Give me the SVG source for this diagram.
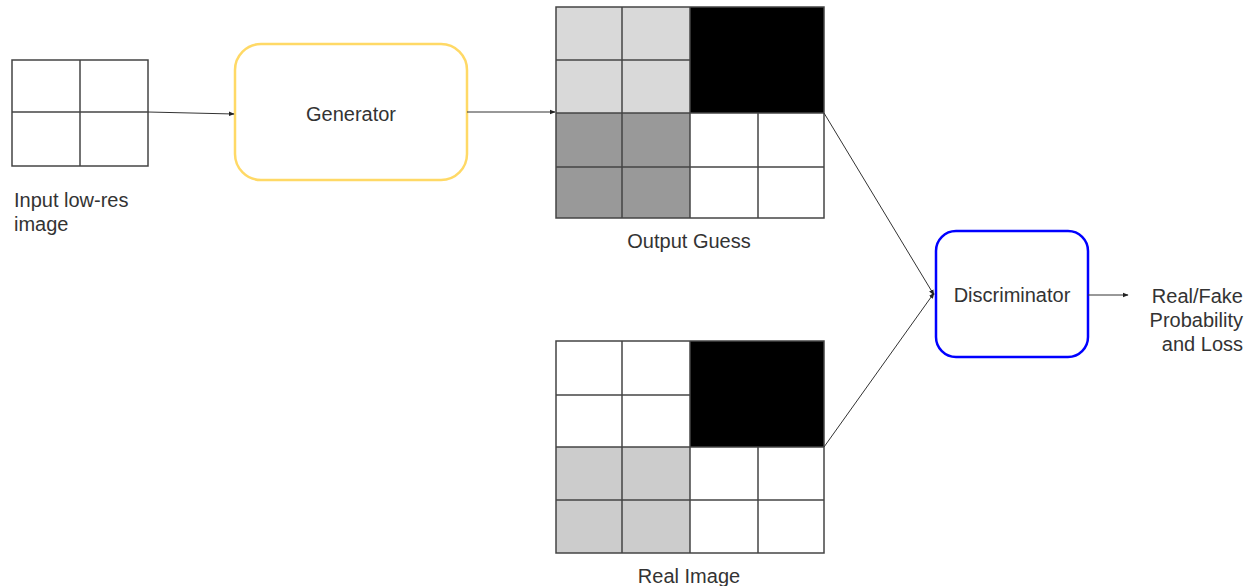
<svg xmlns="http://www.w3.org/2000/svg" width="1255" height="586" viewBox="0 0 1255 586">
<defs>
<style>
text{font-family:"Liberation Sans",Arial,sans-serif;font-size:20px;fill:#333}
.g{stroke:#444;stroke-width:1.5;fill:none}
.c{stroke:#333;stroke-width:1;fill:none}
</style>
<marker id="ah" viewBox="0 0 10 10" refX="9" refY="5" markerWidth="6" markerHeight="6" orient="auto" markerUnits="userSpaceOnUse">
<path d="M0,1 L10,5 L0,9 z" fill="#222"/>
</marker>
</defs>
<rect width="1255" height="586" fill="#fff"/>
<g id="input">
<rect x="12" y="60" width="136" height="106" fill="#fff" class="g"/>
<line x1="80" y1="60" x2="80" y2="166" class="g"/>
<line x1="12" y1="112" x2="148" y2="112" class="g"/>
<text x="14" y="207">Input low-res</text>
<text x="14" y="231">image</text>
</g>
<g id="generator">
<rect x="235" y="44" width="232" height="136" rx="26" fill="#fff" stroke="#ffd966" stroke-width="2.5"/>
<text x="351" y="121" text-anchor="middle">Generator</text>
</g>
<g id="output">
<rect x="556" y="7" width="134" height="106" fill="#d9d9d9"/>
<rect x="690" y="7" width="134" height="106" fill="#000"/>
<rect x="556" y="113" width="134" height="105" fill="#999"/>
<rect x="690" y="113" width="134" height="105" fill="#fff"/>
<line x1="622" y1="7" x2="622" y2="218" class="g"/>
<line x1="758" y1="113" x2="758" y2="218" class="g"/>
<line x1="556" y1="60" x2="690" y2="60" class="g"/>
<line x1="556" y1="167" x2="824" y2="167" class="g"/>
<line x1="556" y1="113" x2="824" y2="113" class="g"/>
<line x1="690" y1="7" x2="690" y2="218" class="g"/>
<rect x="556" y="7" width="268" height="211" class="g"/>
<text x="689" y="248" text-anchor="middle">Output Guess</text>
</g>
<g id="real">
<rect x="556" y="341" width="134" height="106" fill="#fff"/>
<rect x="690" y="341" width="134" height="106" fill="#000"/>
<rect x="556" y="447" width="134" height="106" fill="#ccc"/>
<rect x="690" y="447" width="134" height="106" fill="#fff"/>
<line x1="622" y1="341" x2="622" y2="553" class="g"/>
<line x1="758" y1="447" x2="758" y2="553" class="g"/>
<line x1="556" y1="395" x2="690" y2="395" class="g"/>
<line x1="556" y1="500" x2="824" y2="500" class="g"/>
<line x1="556" y1="447" x2="824" y2="447" class="g"/>
<line x1="690" y1="341" x2="690" y2="553" class="g"/>
<rect x="556" y="341" width="268" height="212" class="g"/>
<text x="689" y="583" text-anchor="middle">Real Image</text>
</g>
<g id="discriminator">
<rect x="936" y="231" width="152" height="126" rx="20" fill="#fff" stroke="#0000ff" stroke-width="2.5"/>
<text x="1012" y="302" text-anchor="middle">Discriminator</text>
</g>
<g id="result">
<text x="1243" y="303" text-anchor="end">Real/Fake</text>
<text x="1243" y="327" text-anchor="end">Probability</text>
<text x="1243" y="351" text-anchor="end">and Loss</text>
</g>
<g id="connectors">
<path d="M148,112 L234,114" class="c" marker-end="url(#ah)"/>
<path d="M467,112 L555,112" class="c" marker-end="url(#ah)"/>
<path d="M824,113 L934,295" class="c" marker-end="url(#ah)"/>
<path d="M824,447 L934,293" class="c" marker-end="url(#ah)"/>
<path d="M1088,295 L1128,295" class="c" marker-end="url(#ah)"/>
</g>
</svg>
